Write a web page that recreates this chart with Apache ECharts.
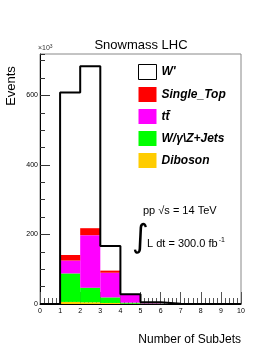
<!DOCTYPE html>
<html><head><meta charset="utf-8">
<script src="https://cdn.jsdelivr.net/npm/echarts@6/dist/echarts.min.js"></script>
<style>html,body{margin:0;padding:0;background:#fff}#c{width:274px;height:355px}</style>
</head><body><div id="c"></div>
<script>
var binEdges = [0,1,2,3,4,5,6,7,8,9,10];
var binLabels = ['0-1','1-2','2-3','3-4','4-5','5-6','6-7','7-8','8-9','9-10'];
var wprime    = [0, 608, 684, 167, 28, 5, 0.5, 0, 0, 0];
var singleTop = [0, 16, 20, 6, 1.5, 0.5, 0, 0, 0, 0];
var ttbar     = [0, 37, 151, 71, 22, 2, 0, 0, 0, 0];
var wzJets    = [0, 82, 42, 16, 3, 1, 0, 0, 0, 0];
var diboson   = [0, 6, 5, 3, 1, 0.5, 0, 0, 0, 0];
var xTicks = [0,1,2,3,4,5,6,7,8,9,10];
var yTickLabels = [0,200,400,600];

var font = 'Liberation Sans, Arial, Helvetica, sans-serif';
var stepData = [[binEdges[0], 0]];
for (var i = 0; i < wprime.length; i++) {
  stepData.push([binEdges[i], wprime[i]]);
  stepData.push([binEdges[i+1], wprime[i]]);
}
stepData.push([binEdges[binEdges.length-1], 0]);

var chart = echarts.init(document.getElementById('c'), null, {renderer:'canvas'});
var legendText = {fontFamily: font, fontSize: 12, fontWeight: 'bold', fontStyle: 'italic', color: '#000'};
chart.setOption({
  animation: false,
  grid: {left: 40, right: 33, top: 54, bottom: 51, show: true, borderColor: '#888', borderWidth: 1, backgroundColor: 'transparent'},
  xAxis: [
    {type: 'value', min: 0, max: 10, interval: 1,
     axisLine: {show: true, onZero: false, lineStyle: {color: '#000', width: 1}},
     axisTick: {show: true, inside: true, length: 12, lineStyle: {color: '#555'}},
     minorTick: {show: true, splitNumber: 5, length: 6, lineStyle: {color: '#555'}},
     splitLine: {show: false},
     axisLabel: {fontFamily: font, fontSize: 7, color: '#000', margin: 4,
       formatter: function(v){ return xTicks.indexOf(v) >= 0 ? String(v) : ''; }}},
    {type: 'category', data: binLabels, boundaryGap: true, show: false}
  ],
  yAxis: [
    {type: 'value', min: 0, max: 719, interval: 200,
     axisLine: {show: true, onZero: false, lineStyle: {color: '#000', width: 1}},
     axisTick: {show: true, inside: true, length: 10, lineStyle: {color: '#333'}},
     splitLine: {show: false},
     axisLabel: {fontFamily: font, fontSize: 7, color: '#000', margin: 2, showMaxLabel: false,
       formatter: function(v){ return yTickLabels.indexOf(v) >= 0 ? String(v) : ''; }}},
    {type: 'value', min: 0, max: 719, interval: 50, position: 'left',
     axisLine: {show: false}, axisLabel: {show: false}, splitLine: {show: false},
     axisTick: {show: true, inside: true, length: 5, lineStyle: {color: '#333'}}}
  ],
  legend: {
    orient: 'vertical', left: 138, top: 64, itemWidth: 18, itemHeight: 15, itemGap: 7,
    icon: 'rect', textStyle: legendText, padding: 0, selectedMode: false,
    data: [
      {name: "W'", itemStyle: {color: '#fff', borderColor: '#000', borderWidth: 1}},
      {name: 'Single_Top'},
      {name: 't\u0074\u0304'},
      {name: 'W/\u03b3\\Z+Jets'},
      {name: 'Diboson'}
    ]
  },
  series: [
    {name: 'Diboson', type: 'bar', stack: 'bg', xAxisIndex: 1, yAxisIndex: 0, data: diboson, barCategoryGap: '0%', itemStyle: {color: '#ffcc00'}},
    {name: 'W/\u03b3\\Z+Jets', type: 'bar', stack: 'bg', xAxisIndex: 1, yAxisIndex: 0, data: wzJets, barCategoryGap: '0%', itemStyle: {color: '#00ff00'}},
    {name: 't\u0074\u0304', type: 'bar', stack: 'bg', xAxisIndex: 1, yAxisIndex: 0, data: ttbar, barCategoryGap: '0%', itemStyle: {color: '#ff00ff'}},
    {name: 'Single_Top', type: 'bar', stack: 'bg', xAxisIndex: 1, yAxisIndex: 0, data: singleTop, barCategoryGap: '0%', itemStyle: {color: '#ff0000'}},
    {name: "W'", type: 'line', xAxisIndex: 0, yAxisIndex: 0, data: stepData, showSymbol: false, symbol: 'none',
     lineStyle: {color: '#000', width: 2}, itemStyle: {color: '#fff', borderColor: '#000'}, z: 5, clip: false}
  ],
  graphic: [
    {type: 'text', x: 141, y: 39, style: {text: 'Snowmass LHC', fontFamily: font, fontSize: 13, fill: '#000', textAlign: 'center'}},
    {type: 'text', x: 38, y: 44, style: {text: '\u00d710{s|3}', fontFamily: font, fontSize: 7, fill: '#333', rich: {s: {fontSize: 5, verticalAlign: 'top', fontFamily: font, fill: '#333', padding: [0,0,4,0]}}}},
    {type: 'text', x: 5, y: 86, rotation: Math.PI/2, style: {text: 'Events', fontFamily: font, fontSize: 13, fill: '#000', textAlign: 'center', textVerticalAlign: 'top'}},
    {type: 'text', x: 241, y: 334, style: {text: 'Number of SubJets', fontFamily: font, fontSize: 12, fill: '#000', textAlign: 'right'}},
    {type: 'text', x: 143, y: 205, style: {text: 'pp \u221as = 14 TeV', fontFamily: font, fontSize: 11, fill: '#000'}},
    {type: 'text', x: 132, y: 223, style: {text: '\u222b', fontFamily: 'DejaVu Sans', fontSize: 32, fill: '#000'}},
    {type: 'text', x: 147, y: 237, style: {text: 'L dt = 300.0 fb{s|-1}', fontFamily: font, fontSize: 11, fill: '#000', rich: {s: {fontSize: 7, fontFamily: font, fill: '#000', padding: [0,0,6,1]}}}}
  ]
});
</script></body></html>
